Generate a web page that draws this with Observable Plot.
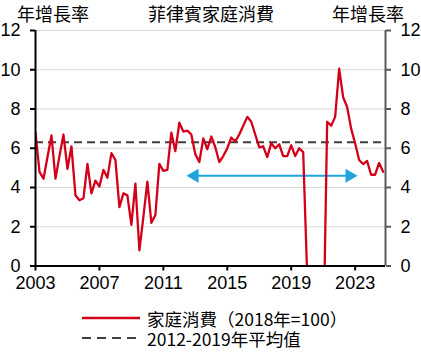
<!DOCTYPE html>
<html><head><meta charset="utf-8">
<script src="https://cdn.jsdelivr.net/npm/d3@7"></script>
<script src="https://cdn.jsdelivr.net/npm/@observablehq/plot@0.6"></script>
<style>
body{margin:0;background:#fff;}
#wrap{position:relative;width:421px;height:353px;overflow:hidden;background:#fff;}
#chart{position:absolute;left:0;top:0;}
.t{position:absolute;font-size:18px;line-height:18px;white-space:nowrap;color:#000;font-family:"Liberation Sans Narrow","Noto Sans CJK TC",sans-serif;}
.t.s{font-size:17.5px;line-height:17px;}
.lg{position:absolute;left:82px;}
</style></head>
<body><div id="wrap">
<div id="chart"></div>
<div class="t" id="tl" style="left:17px;top:4px;"></div>
<div class="t" id="tt" style="left:148px;top:4px;"></div>
<div class="t" id="tr" style="left:332px;top:4px;"></div>
<svg class="lg" style="top:312px" width="58" height="12"><line x1="0" x2="58" y1="6" y2="6" stroke="#d4001a" stroke-width="2.5"/></svg>
<div class="t s" id="l1" style="left:147px;top:310px;"></div>
<svg class="lg" style="top:332px" width="58" height="12"><line x1="0" x2="58" y1="6" y2="6" stroke="#3f3f3f" stroke-width="2" stroke-dasharray="9,6"/></svg>
<div class="t s" id="l2" style="left:147px;top:330px;"></div>
</div>
<script>
// ---- data ----
const title = "菲律賓家庭消費";
const axisTitle = "年增長率";
const seriesName = "家庭消費（2018年=100）";
const avgName = "2012-2019年平均值";
const startYear = 2003; // first quarter: 2003 Q1, quarterly data
const yoy = [
  6.8, 4.8, 4.45, 5.55, 6.65, 4.45, 5.6, 6.7, 4.95, 6.1,
  3.6, 3.35, 3.45, 5.2, 3.7, 4.35, 4.05, 4.9, 4.5, 5.75,
  5.4, 3.0, 3.7, 3.6, 2.1, 4.2, 0.8, 2.5, 4.3, 2.2,
  2.6, 5.2, 4.85, 4.9, 6.8, 5.85, 7.3, 6.85, 6.9, 6.7,
  5.7, 5.3, 6.5, 5.95, 6.6, 6.05, 5.3, 5.6, 6.0, 6.55,
  6.35, 6.7, 7.15, 7.6, 7.35, 6.7, 6.05, 6.1, 5.55, 6.25,
  6.0, 6.2, 5.6, 5.6, 6.15, 5.6, 6.0, 5.8, -0.5, -15,
  -9, -7.5, -4.5, 7.35, 7.15, 7.6, 10.05, 8.6, 8.1, 7.0,
  6.25, 5.4, 5.2, 5.35, 4.65, 4.65, 5.25, 4.8
];
const avg2012_2019 = [6.3];
const arrowStart = [2012.45];
const arrowEnd = [2023.15];
const arrowLevel = [4.6];
const xTicks = [2003, 2007, 2011, 2015, 2019, 2023];
const yTicks = [0, 2, 4, 6, 8, 10, 12];
const xDomain = [2003, 2024.9];
const yDomain = [0, 12];

// ---- build ----
const series = yoy.map((v, i) => ({t: startYear + i / 4, v}));
const arrowRow = [{start: arrowStart[0], end: arrowEnd[0], level: arrowLevel[0]}];
const red = "#d4001a", blue = "#1ea5e0";

document.getElementById("tl").textContent = axisTitle;
document.getElementById("tr").textContent = axisTitle;
document.getElementById("tt").textContent = title;
document.getElementById("l1").textContent = seriesName;
document.getElementById("l2").textContent = avgName;

const chart = Plot.plot({
  width: 421, height: 300,
  marginTop: 30, marginBottom: 34.5, marginLeft: 35, marginRight: 36,
  style: {fontFamily: "'Liberation Sans Narrow', 'Arial Narrow', sans-serif", fontSize: "18px", color: "#000", background: "transparent", overflow: "visible"},
  x: {domain: xDomain},
  y: {domain: yDomain},
  marks: [
    Plot.gridY(yTicks.filter(d => d > 0), {stroke: "#d9d9d9", strokeOpacity: 1, strokeWidth: 1}),
    Plot.ruleY(avg2012_2019, {stroke: "#3f3f3f", strokeWidth: 2, strokeDasharray: "8,5"}),
    Plot.ruleY(arrowRow, {y: "level", x1: "start", x2: "end", stroke: blue, strokeWidth: 2, insetLeft: 6, insetRight: 6}),
    Plot.dot(arrowRow, {x: "start", y: "level", symbol: "triangle", r: 5.2, rotate: -90, fill: blue, stroke: null, dx: 8}),
    Plot.dot(arrowRow, {x: "end", y: "level", symbol: "triangle", r: 5.2, rotate: 90, fill: blue, stroke: null, dx: -8}),
    Plot.line(series, {x: "t", y: "v", stroke: red, strokeWidth: 2.3, clip: true}),
    Plot.ruleX([xDomain[1]], {stroke: "#595959", strokeWidth: 2}),
    Plot.ruleX([xDomain[0]], {stroke: "#000", strokeWidth: 2}),
    Plot.ruleY([yDomain[0]], {stroke: "#000", strokeWidth: 2}),
    Plot.axisY({ticks: yTicks, tickFormat: d => String(d), anchor: "left", tickSize: 5, tickPadding: 10, strokeWidth: 2, label: null}),
    Plot.axisY({ticks: yTicks, tickFormat: d => String(d), anchor: "right", tickSize: 5, tickPadding: 10, stroke: "#595959", strokeWidth: 2, fill: "#000", label: null}),
    Plot.axisX({ticks: xTicks, tickFormat: d => String(d), tickSize: 5, tickPadding: 5, strokeWidth: 2, label: null})
  ]
});
document.getElementById("chart").appendChild(chart);
</script>
</body></html>
